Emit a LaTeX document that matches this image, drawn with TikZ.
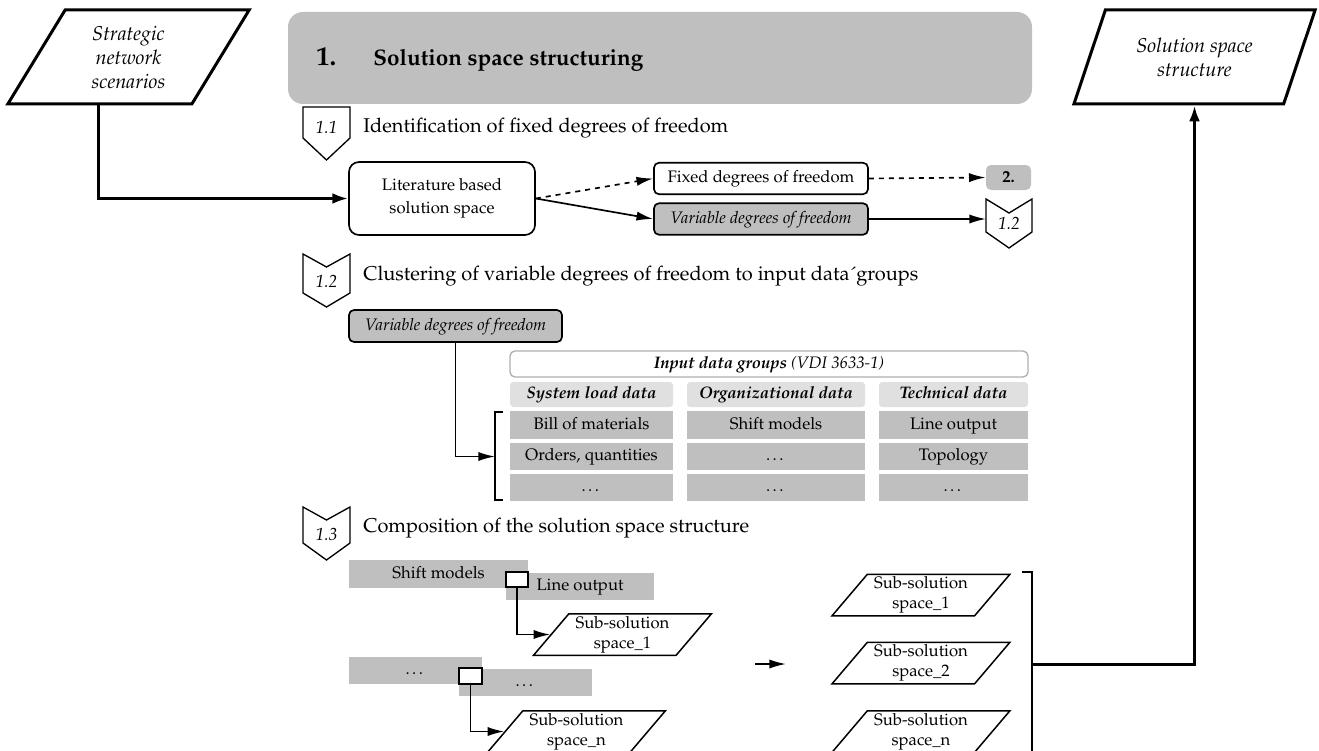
\documentclass[tikz,border=0pt]{standalone}
\usepackage[T1]{fontenc}
\usepackage{mathpazo}
\usepackage{tikz}
\usetikzlibrary{arrows,shapes}
\usetikzlibrary{arrows.meta}
\usetikzlibrary{positioning}
\usetikzlibrary{calc}
\definecolor{phasegray}{RGB}{191,191,191}
\definecolor{headgray}{RGB}{224,224,224}
\definecolor{framegray}{RGB}{175,175,175}
\tikzset{
    thinline/.style={draw=black, line width=1pt},
    thickline/.style={draw=black, line width=1.8pt, >={Latex[length=9.5pt,width=6.5pt]}},
    inout/.style={trapezium, trapezium left angle=62, trapezium right angle=118,
        trapezium stretches=true, draw=black, line width=1.8pt,
        minimum width=145.8pt, minimum height=56.4pt, inner sep=0pt,
        align=center, font=\itshape\fontsize{12}{14.4}\selectfont},
    subspace/.style={trapezium, trapezium left angle=50, trapezium right angle=130,
        trapezium stretches=true, draw=black, line width=0.9pt,
        minimum width=107pt, minimum height=24.9pt, inner sep=0pt,
        align=center, font=\fontsize{10}{12}\selectfont},
    phasebox/.style={fill=phasegray, rounded corners=9pt, inner sep=0pt},
    litbox/.style={draw=black, line width=1pt, rounded corners=6pt, align=center,
        minimum width=111.6pt, minimum height=43.8pt, inner sep=0pt,
        font=\fontsize{10}{13.5}\selectfont},
    dofbox/.style={draw=black, line width=1pt, rounded corners=3pt,
        minimum width=128.4pt, minimum height=18.9pt, inner sep=0pt,
        text height=7pt, text depth=2.2pt, font=\fontsize{10}{12}\selectfont},
    nextbox/.style={fill=phasegray, rounded corners=3pt, minimum width=27pt,
        minimum height=15pt, inner sep=0pt, font=\bfseries\fontsize{10}{12}\selectfont},
    stepmark/.style={draw=black, line width=0.8pt, fill=white},
    steplabel/.style={inner sep=0pt, minimum width=28.2pt,
        font=\itshape\fontsize{10.5}{12}\selectfont},
    steptext/.style={anchor=west, inner sep=0pt, font=\fontsize{12}{14}\selectfont},
    grouphead/.style={draw=framegray, line width=0.8pt, rounded corners=3pt,
        minimum width=310.8pt, minimum height=15.6pt, inner sep=0pt,
        text height=7pt, text depth=2.2pt, font=\itshape\fontsize{10}{12}\selectfont},
    colhead/.style={fill=headgray, rounded corners=2pt, minimum height=15pt,
        inner sep=0pt, text height=7pt, text depth=2.2pt,
        font=\bfseries\itshape\fontsize{10}{12}\selectfont},
    cell/.style={fill=phasegray, minimum height=16.5pt, inner sep=0pt,
        text height=7pt, text depth=2.2pt, font=\fontsize{10}{12}\selectfont},
    combar/.style={fill=phasegray, minimum height=16.5pt, inner sep=0pt,
        text height=7pt, text depth=2.2pt, font=\fontsize{10}{12}\selectfont},
    knot/.style={draw=black, line width=1pt, fill=white, minimum width=13.2pt,
        minimum height=9pt, inner sep=0pt},
}
\begin{document}
\begin{tikzpicture}[x=0.6pt, y=-0.6pt, >={Latex[length=10pt,width=5.5pt]}]
	\useasboundingbox (0,0) rectangle (1319,751);
	% phase 1 header
	\node[phasebox, minimum width=446.4pt, minimum height=55.2pt] (phase) at (660,58) {};
	\node[anchor=base west, inner sep=0pt, font=\bfseries\fontsize{16}{18}\selectfont] (phasenr) at (316,66) {1.};
	\node[anchor=base west, inner sep=0pt, font=\bfseries\fontsize{13.5}{15}\selectfont] (phasename) at (373,66) {Solution space structuring};
	% input and output
	\node[inout] (scen) at (128.5,57) {Strategic\\network\\scenarios};
	\node[inout] (struct) at (1194.5,57) {Solution space\\structure};
	% step 1.1
\begin{scope}[shift={(303,107)}]
	\draw[stepmark] (0,0) -- (47,0) -- (47,31) -- (23.5,53) -- (0,31) -- cycle;
	\node[steplabel] (s11) at (23.5,21) {1.1};
\end{scope}
	\node[steptext] (t11) at (363,128) {Identification of fixed degrees of freedom};
	\node[litbox] (lit) at (442,198.5) {Literature based\\solution space};
	\node[dofbox] (fixed) at (761,178.5) {Fixed degrees of freedom};
	\node[dofbox, fill=phasegray, font=\itshape\fontsize{10}{12}\selectfont] (var) at (761,219) {Variable degrees of freedom};
	\node[nextbox] (next) at (1008.5,177.5) {2.};
\begin{scope}[shift={(986,199)}]
	\draw[stepmark] (0,0) -- (23,14) -- (46,0) -- (46,33) -- (23,49) -- (0,33) -- cycle;
	\coordinate (s12in) at (0,20);
	\node[steplabel, minimum width=27.6pt] (s12a) at (23,25) {1.2};
\end{scope}
	\draw[thickline,->] (scen.bottom side) |- (lit.west);
	\draw[thinline,dashed,->] (lit.east) -- (fixed.west);
	\draw[thinline,->] (lit.east) -- (var.west);
	\draw[thinline,dashed,->] (fixed.east) -- (next.west);
	\draw[thinline,->] (var.east) -- (s12in);
	% step 1.2
\begin{scope}[shift={(303,254)}]
	\draw[stepmark] (0,0) -- (23.5,13) -- (47,0) -- (47,39) -- (23.5,53) -- (0,39) -- cycle;
	\node[steplabel] (s12) at (23.5,28) {1.2};
\end{scope}
	\node[steptext] (t12) at (363,276) {Clustering of variable degrees of freedom to input data\'{}groups};
	\node[dofbox, fill=phasegray, minimum width=127.8pt, minimum height=19.2pt, font=\itshape\fontsize{10}{12}\selectfont] (var2) at (455.5,326) {Variable degrees of freedom};
	\node[grouphead] (groups) at (769,364) {\textbf{Input data groups} (VDI 3633-1)};
	\node[colhead, minimum width=97.8pt] (load) at (591.5,394.5) {System load data};
	\node[colhead, minimum width=106.8pt] (orga) at (776,394.5) {Organizational data};
	\node[colhead, minimum width=89.4pt] (tech) at (953.5,394.5) {Technical data};
	\node[cell, minimum width=97.8pt] (load1) at (591.5,425) {Bill of materials};
	\node[cell, minimum width=97.8pt] (load2) at (591.5,456.5) {Orders, quantities};
	\node[cell, minimum width=97.8pt] (load3) at (591.5,487.5) {\dots};
	\node[cell, minimum width=106.8pt] (orga1) at (776,425) {Shift models};
	\node[cell, minimum width=106.8pt] (orga2) at (776,456.5) {\dots};
	\node[cell, minimum width=106.8pt] (orga3) at (776,487.5) {\dots};
	\node[cell, minimum width=89.4pt] (tech1) at (953.5,425) {Line output};
	\node[cell, minimum width=89.4pt] (tech2) at (953.5,456.5) {Topology};
	\node[cell, minimum width=89.4pt] (tech3) at (953.5,487.5) {\dots};
	\draw[thinline] (503,412) -- (495,412) -- (495,500) -- (503,500);
	\coordinate (brk) at (495,456.5);
	\draw[thinline,->] (var2.south) |- (brk);
	% step 1.3
\begin{scope}[shift={(303,507)}]
	\draw[stepmark] (0,0) -- (23.5,13) -- (47,0) -- (47,36) -- (23.5,53) -- (0,36) -- cycle;
	\node[steplabel] (s13) at (23.5,28) {1.3};
\end{scope}
	\node[steptext] (t13) at (363,528) {Composition of the solution space structure};
	\node[combar, minimum width=107.4pt] (shift) at (438.5,574) {Shift models};
	\node[combar, minimum width=88.8pt] (line) at (580,586.5) {Line output};
	\node[knot] (knot1) at (517,579.5) {};
	\node[subspace] (sub1) at (622.5,634.5) {Sub-solution\\space\_1};
	\draw[thinline,->] (knot1.south) |- (sub1.left side);
	\node[combar, minimum width=79.8pt] (dots1) at (415.5,670.5) {\dots};
	\node[combar, minimum width=79.8pt] (dots2) at (525.5,682.5) {\dots};
	\node[knot, minimum width=13.8pt, minimum height=9.6pt] (knot2) at (470.5,676) {};
	\node[subspace] (subn) at (576.5,731.5) {Sub-solution\\space\_n};
	\draw[thinline,->] (knot2.south) |- (subn.left side);
	\coordinate (gatherin) at (755,664);
	\coordinate (gatherout) at (786,664);
	\draw[thinline,->] (gatherin) -- (gatherout);
	\node[subspace] (res1) at (921,595) {Sub-solution\\space\_1};
	\node[subspace] (res2) at (921,663) {Sub-solution\\space\_2};
	\node[subspace] (resn) at (921,731.5) {Sub-solution\\space\_n};
	\draw[thinline] (1022,572) -- (1032,572) -- (1032,760);
	\coordinate (collect) at (1032,664);
	\draw[thickline,->] (collect) -| (struct.south);
\end{tikzpicture}
\end{document}
